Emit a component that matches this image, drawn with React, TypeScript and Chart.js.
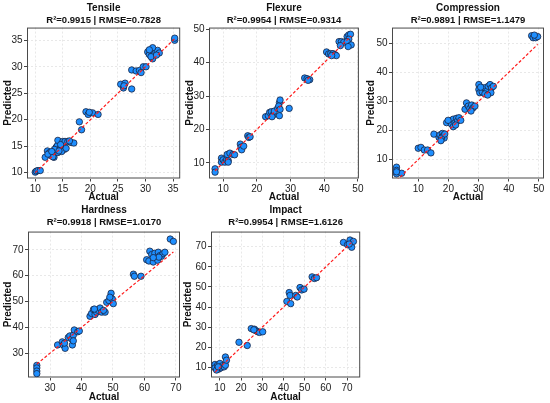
import { useEffect, useRef } from "react";
import { Chart, registerables } from "chart.js";

Chart.register(...registerables);

// Tensile
const tensileActual = [
  10.0, 10.2, 10.5, 10.9, 11.8, 12.2, 12.6, 12.9, 13.2, 13.4, 13.6, 13.8, 14.0, 14.1, 14.4, 14.7,
  15.0, 15.3, 15.4, 15.9, 16.5, 17.0, 14.1, 13.5, 14.6, 13.2, 12.3, 14.8, 13.0, 14.3, 15.6, 16.2,
  18.0, 18.4, 19.2, 19.6, 20.4, 21.4, 19.8, 25.5, 26.0, 26.3, 26.1, 27.5, 27.5, 28.3, 28.9, 29.2,
  29.6, 30.1, 30.4, 30.7, 31.0, 31.3, 31.6, 31.9, 32.2, 31.3, 30.7, 32.5, 31.0, 32.0, 35.3, 35.3,
];
const tensilePredicted = [
  10.1, 10.3, 10.4, 10.4, 12.9, 14.1, 13.8, 13.2, 13.5, 12.9, 13.8, 14.8, 15.1, 16.1, 14.4, 14.8,
  15.9, 14.4, 15.9, 15.9, 15.7, 15.6, 13.8, 14.4, 15.3, 13.0, 13.5, 14.0, 14.0, 14.1, 14.6, 16.0,
  19.6, 18.1, 21.5, 21.0, 21.3, 21.0, 21.4, 26.7, 26.0, 26.9, 26.4, 25.8, 29.4, 29.2, 29.3, 28.9,
  30.0, 30.0, 32.8, 32.3, 33.1, 31.5, 32.4, 32.8, 33.1, 33.6, 33.2, 32.6, 31.9, 32.2, 35.0, 35.4,
];

// Flexure
const flexureActual = [
  7.6, 7.6, 9.5, 9.5, 10.0, 10.5, 11.0, 11.5, 11.5, 11.2, 12.0, 12.9, 13.4, 15.1, 15.3, 15.5,
  16.1, 17.3, 17.6, 18.0, 22.6, 23.4, 23.8, 24.3, 24.8, 25.2, 24.5, 26.2, 26.7, 26.9, 26.5, 26.9,
  26.7, 29.6, 34.2, 34.9, 35.7, 35.2, 40.7, 41.3, 41.9, 42.6, 43.2, 43.6, 42.2, 44.4, 45.1, 45.8,
  44.8, 46.8, 47.3, 47.8, 47.3, 46.8, 48.0, 47.1,
];
const flexurePredicted = [
  8.2, 7.2, 11.4, 10.2, 10.9, 10.2, 10.9, 10.7, 10.2, 12.5, 12.9, 12.5, 12.4, 15.6, 14.7, 13.9,
  15.0, 18.1, 17.6, 17.8, 23.8, 24.1, 25.1, 25.3, 24.3, 25.5, 23.8, 26.3, 28.0, 28.8, 27.0, 26.0,
  24.1, 26.3, 35.4, 35.2, 34.9, 34.7, 43.2, 42.6, 42.7, 42.7, 42.4, 42.1, 42.1, 46.3, 46.3, 46.1,
  45.1, 47.8, 48.3, 48.5, 47.0, 46.3, 45.3, 44.8,
];

// Compression
const compressionActual = [
  2.8, 2.8, 2.8, 4.5, 2.8, 10.0, 10.9, 12.0, 13.1, 14.2, 15.2, 16.9, 17.2, 18.0, 18.3, 18.6,
  17.7, 18.8, 17.5, 19.4, 20.5, 21.0, 21.6, 22.2, 22.7, 23.0, 23.5, 24.1, 21.6, 22.4, 19.9, 25.5,
  26.0, 26.6, 27.1, 27.7, 28.2, 28.8, 27.5, 30.1, 30.1, 30.4, 31.2, 31.9, 32.7, 33.2, 33.8, 34.3,
  34.9, 34.1, 32.1, 33.0, 30.7, 47.6, 48.1, 48.9, 49.6, 48.5,
];
const compressionPredicted = [
  7.4, 6.3, 5.1, 5.3, 5.8, 13.9, 14.2, 13.3, 13.3, 12.3, 18.75, 17.6, 18.5, 19.0, 18.2, 17.4,
  17.4, 18.8, 16.5, 22.7, 23.3, 22.2, 23.9, 22.7, 24.2, 23.3, 24.4, 23.5, 21.3, 21.9, 23.5, 27.3,
  29.5, 28.4, 27.6, 28.75, 27.8, 28.4, 26.7, 35.8, 34.1, 33.0, 33.3, 34.7, 33.5, 35.2, 35.8, 34.7,
  35.2, 33.0, 32.6, 32.2, 34.9, 52.6, 51.9, 51.9, 52.3, 52.8,
];

// Hardness
const hardnessActual = [
  25.8, 25.8, 25.8, 25.8, 32.4, 33.9, 34.2, 34.8, 34.6, 35.8, 36.3, 36.9, 37.4, 37.1, 37.4, 37.7,
  38.8, 39.3, 42.7, 43.2, 43.8, 44.3, 44.8, 45.3, 45.9, 46.4, 47.5, 44.1, 47.0, 48.0, 48.7, 49.4,
  49.8, 50.1, 49.0, 56.5, 56.8, 58.9, 60.7, 61.7, 61.4, 62.3, 62.8, 63.3, 63.9, 64.4, 64.9, 65.4,
  65.9, 66.5, 64.2, 64.6, 62.8, 68.2, 69.2,
];
const hardnessPredicted = [
  25.3, 24.3, 23.1, 22.1, 33.2, 34.4, 33.2, 31.9, 33.9, 36.1, 36.7, 35.5, 37.0, 33.2, 34.8, 39.0,
  38.3, 38.6, 44.3, 45.4, 46.9, 45.0, 45.9, 46.6, 47.5, 45.9, 45.9, 47.1, 46.6, 49.7, 50.4, 53.2,
  51.0, 49.2, 51.7, 60.6, 59.8, 59.8, 66.2, 69.5, 65.7, 68.2, 65.3, 68.7, 67.0, 69.1, 67.8, 67.5,
  68.5, 69.1, 66.0, 67.2, 67.0, 74.2, 73.3,
];

// Impact
const impactActual = [
  7.7, 7.7, 8.9, 9.5, 10.0, 10.5, 11.1, 12.0, 12.6, 8.4, 9.2, 12.6, 13.1, 19.0, 22.9, 24.8,
  26.3, 27.1, 27.9, 28.7, 30.2, 26.0, 41.6, 42.7, 43.1, 43.4, 45.8, 46.5, 47.8, 48.6, 49.7, 53.5,
  54.6, 55.6, 68.3, 70.2, 71.4, 72.2, 73.0, 71.0,
];
const impactPredicted = [
  11.5, 9.8, 11.1, 9.2, 12.0, 9.8, 10.8, 10.3, 11.1, 8.7, 10.3, 15.2, 13.6, 22.5, 20.9, 29.3,
  29.0, 28.2, 27.7, 27.4, 27.7, 28.7, 42.8, 47.2, 45.8, 41.7, 45.8, 45.0, 49.7, 48.5, 48.9, 55.0,
  54.2, 54.6, 72.1, 71.0, 73.3, 69.7, 72.6, 71.3,
];

const tensileTicks = [10, 15, 20, 25, 30, 35];
const tenStepTicks = [10, 20, 30, 40, 50];
const hardnessTicks = [30, 40, 50, 60, 70];
const impactTicks = [10, 20, 30, 40, 50, 60, 70];

const FONT = "'Liberation Sans', Arial, sans-serif";

const frame = {
  id: "frame",
  beforeDatasetsDraw(chart: Chart) {
    const { ctx, chartArea } = chart;
    ctx.save();
    ctx.strokeStyle = "#4a4a4a";
    ctx.lineWidth = 1;
    ctx.strokeRect(
      chartArea.left + 0.5,
      chartArea.top + 0.5,
      chartArea.right - chartArea.left - 1,
      chartArea.bottom - chartArea.top - 1
    );
    ctx.restore();
  },
};

type PanelProps = {
  title: string;
  stats: string;
  actual: number[];
  predicted: number[];
  xTicks: number[];
  yTicks: number[];
  xRange: [number, number];
  yRange: [number, number];
  left: number;
  top: number;
  width: number;
  height: number;
  yAxisWidth: number;
  xAxisHeight: number;
  padRight: number;
  titleTop: number;
  statsBottom: number;
  yTitlePad: number;
};

function Panel(p: PanelProps) {
  const chartRef = useRef<HTMLCanvasElement>(null);
  const chartInstanceRef = useRef<Chart | null>(null);

  useEffect(() => {
    if (!chartRef.current) return;
    if (chartInstanceRef.current) chartInstanceRef.current.destroy();

    const points = p.actual.map((a, i) => ({ x: a, y: p.predicted[i] }));
    // y = x reference line over the range of the actual values
    const lo = Math.min(...p.actual);
    const hi = Math.max(...p.actual);

    const tickFont = { family: FONT, size: 10 };
    const gridOpts = {
      color: "#e2e2e2",
      lineWidth: 0.8,
      tickLength: 3,
      tickColor: "#444",
      tickWidth: 1,
    };

    chartInstanceRef.current = new Chart(chartRef.current, {
      type: "scatter",
      data: {
        datasets: [
          {
            type: "line",
            data: [
              { x: lo, y: lo },
              { x: hi, y: hi },
            ],
            borderColor: "#ff1a1a",
            borderWidth: 1.2,
            borderDash: [3, 2],
            pointRadius: 0,
            fill: false,
            order: 0,
          },
          {
            data: points,
            backgroundColor: "#1e8fff",
            borderColor: "#1a2340",
            borderWidth: 0.8,
            pointRadius: 3.2,
            order: 1,
          },
        ],
      },
      options: {
        animation: false,
        responsive: true,
        maintainAspectRatio: false,
        layout: { padding: { left: 0, right: p.padRight, top: 0, bottom: 0 } },
        plugins: {
          legend: { display: false },
          tooltip: { enabled: false },
          title: {
            display: true,
            text: p.title,
            color: "#111",
            fullSize: false,
            font: { family: FONT, size: 10, weight: "bold", lineHeight: 1.2 },
            padding: { top: p.titleTop, bottom: 0 },
          },
          subtitle: {
            display: true,
            text: p.stats,
            color: "#111",
            fullSize: false,
            font: { family: FONT, size: 9.5, weight: "bold", lineHeight: 1.27 },
            padding: { top: 0, bottom: p.statsBottom },
          },
        },
        scales: {
          x: {
            type: "linear",
            min: p.xRange[0],
            max: p.xRange[1],
            afterBuildTicks: (s: any) => {
              s.ticks = p.xTicks.map((v) => ({ value: v }));
            },
            afterFit: (s: any) => {
              s.height = p.xAxisHeight;
            },
            ticks: { font: tickFont, color: "#222", padding: 1.5, maxRotation: 0, autoSkip: false },
            grid: gridOpts,
            border: { display: false, dash: [2, 2] },
            title: {
              display: true,
              text: "Actual",
              color: "#111",
              font: { family: FONT, size: 10, weight: "bold", lineHeight: 1.2 },
              padding: { top: 0, bottom: 0 },
            },
          },
          y: {
            type: "linear",
            min: p.yRange[0],
            max: p.yRange[1],
            afterBuildTicks: (s: any) => {
              s.ticks = p.yTicks.map((v) => ({ value: v }));
            },
            afterFit: (s: any) => {
              s.width = p.yAxisWidth;
            },
            ticks: { font: tickFont, color: "#222", padding: 1.5, autoSkip: false },
            grid: gridOpts,
            border: { display: false, dash: [2, 2] },
            title: {
              display: true,
              text: "Predicted",
              color: "#111",
              font: { family: FONT, size: 10, weight: "bold", lineHeight: 1.2 },
              padding: { top: p.yTitlePad, bottom: 0 },
            },
          },
        },
      },
      plugins: [frame],
    } as any);

    return () => {
      if (chartInstanceRef.current) {
        chartInstanceRef.current.destroy();
        chartInstanceRef.current = null;
      }
    };
  }, []);

  return (
    <div
      style={{
        position: "absolute",
        left: p.left,
        top: p.top,
        width: p.width,
        height: p.height,
      }}
    >
      <canvas ref={chartRef} />
    </div>
  );
}

export default function App() {
  return (
    <div
      style={{
        position: "absolute",
        left: 0,
        top: 0,
        width: 550,
        height: 403,
        background: "#fff",
        overflow: "hidden",
      }}
    >
      <Panel
        title="Tensile"
        stats="R²=0.9915 | RMSE=0.7828"
        actual={tensileActual}
        predicted={tensilePredicted}
        xTicks={tensileTicks}
        yTicks={tensileTicks}
        xRange={[8.5, 36.3]}
        yRange={[8.9, 37.4]}
        left={0}
        top={0}
        width={185}
        height={203}
        yAxisWidth={27}
        xAxisHeight={24.5}
        padRight={4}
        titleTop={2}
        statsBottom={1.5}
        yTitlePad={2}
      />
      <Panel
        title="Flexure"
        stats="R²=0.9954 | RMSE=0.9314"
        actual={flexureActual}
        predicted={flexurePredicted}
        xTicks={tenStepTicks}
        yTicks={tenStepTicks}
        xRange={[5.8, 50.3]}
        yRange={[5.3, 50.5]}
        left={182}
        top={0}
        width={183}
        height={203}
        yAxisWidth={27}
        xAxisHeight={24.5}
        padRight={3}
        titleTop={2}
        statsBottom={1.5}
        yTitlePad={2}
      />
      <Panel
        title="Compression"
        stats="R²=0.9891 | RMSE=1.1479"
        actual={compressionActual}
        predicted={compressionPredicted}
        xTicks={tenStepTicks}
        yTicks={tenStepTicks}
        xRange={[1.3, 51.7]}
        yRange={[3.5, 55.4]}
        left={365}
        top={0}
        width={185}
        height={203}
        yAxisWidth={27}
        xAxisHeight={24.5}
        padRight={6}
        titleTop={2}
        statsBottom={1.5}
        yTitlePad={0}
      />
      <Panel
        title="Hardness"
        stats="R²=0.9918 | RMSE=1.0170"
        actual={hardnessActual}
        predicted={hardnessPredicted}
        xTicks={hardnessTicks}
        yTicks={hardnessTicks}
        xRange={[23.0, 71.3]}
        yRange={[20.6, 77.1]}
        left={0}
        top={203}
        width={185}
        height={200}
        yAxisWidth={28}
        xAxisHeight={25.5}
        padRight={5}
        titleTop={1}
        statsBottom={3.5}
        yTitlePad={2}
      />
      <Panel
        title="Impact"
        stats="R²=0.9954 | RMSE=1.6126"
        actual={impactActual}
        predicted={impactPredicted}
        xTicks={impactTicks}
        yTicks={impactTicks}
        xRange={[5.8, 76.2]}
        yRange={[5.0, 77.5]}
        left={182}
        top={203}
        width={183}
        height={200}
        yAxisWidth={29}
        xAxisHeight={25.5}
        padRight={3}
        titleTop={1}
        statsBottom={3.5}
        yTitlePad={0}
      />
    </div>
  );
}
